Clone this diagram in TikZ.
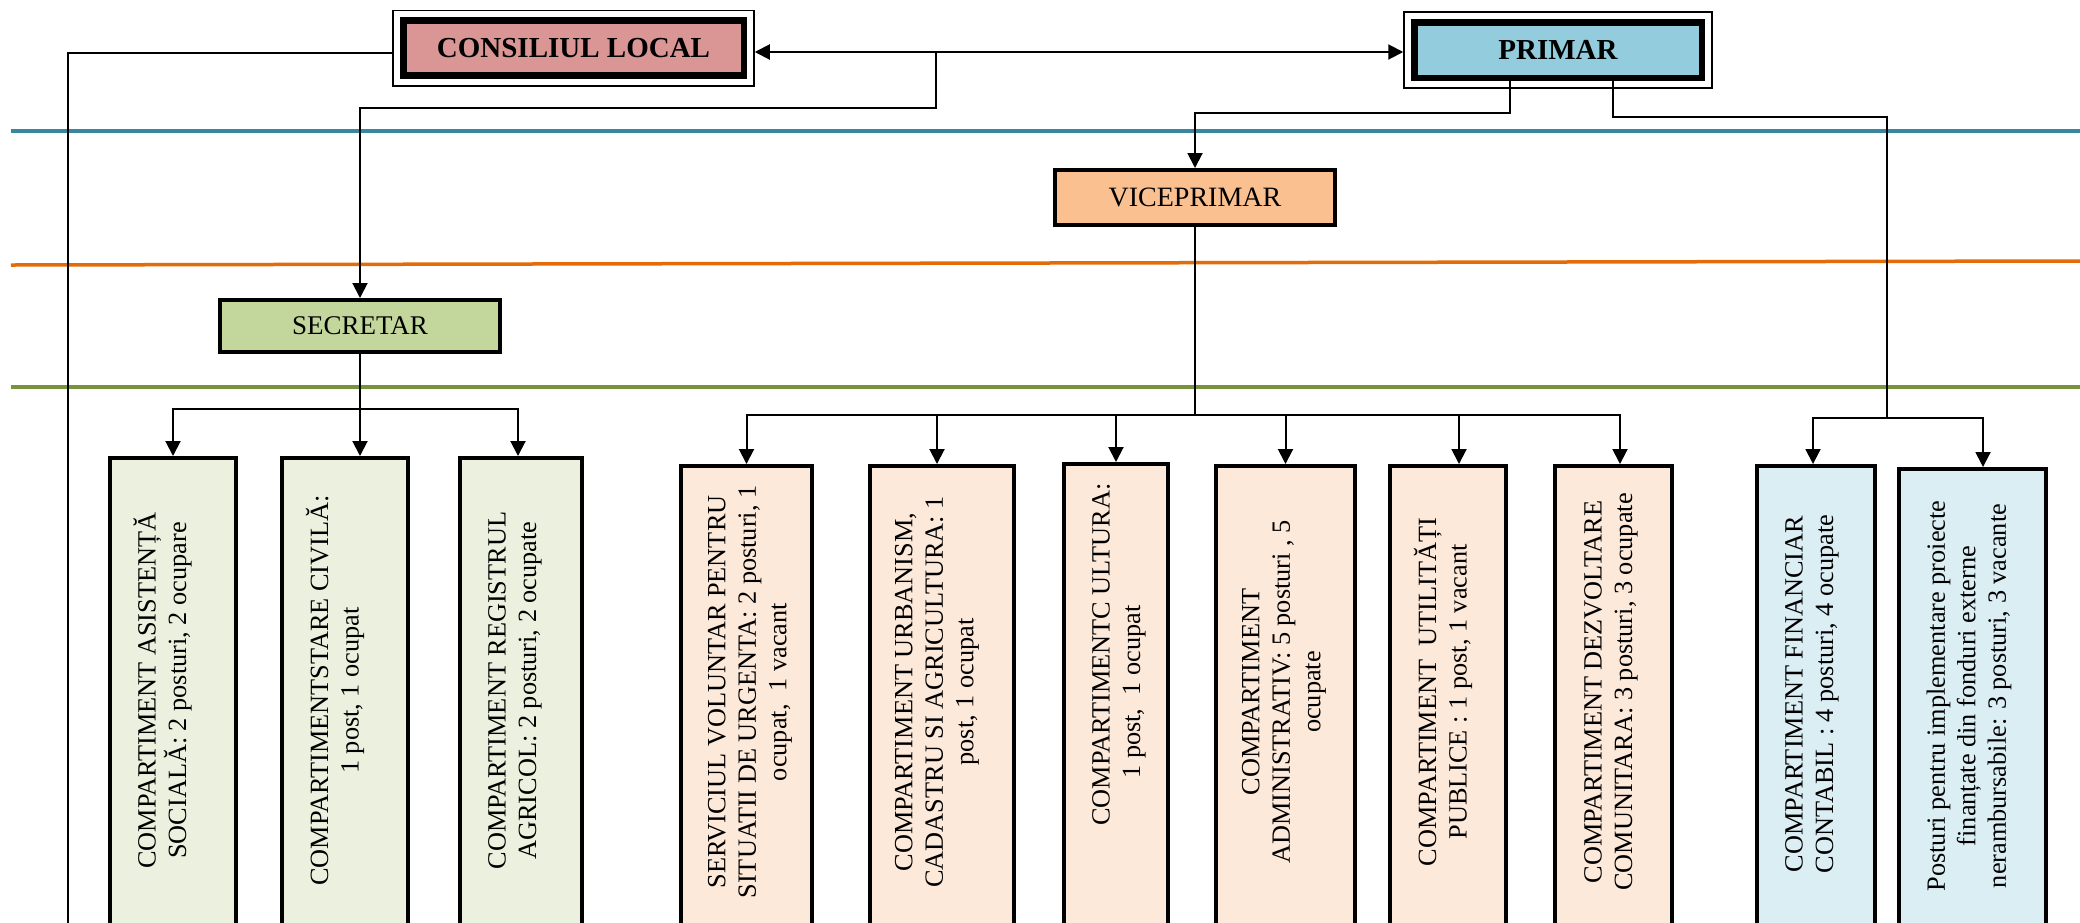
\documentclass[tikz,border=0pt]{standalone}
\usepackage{fontspec}
\setmainfont{Liberation Serif}
\usetikzlibrary{arrows.meta}
\definecolor{clpink}{RGB}{217,150,148}
\definecolor{prblue}{RGB}{147,205,221}
\definecolor{vporange}{RGB}{250,192,144}
\definecolor{secgreen}{RGB}{195,214,155}
\definecolor{lgreen}{RGB}{235,241,222}
\definecolor{lorange}{RGB}{253,233,217}
\definecolor{lblue}{RGB}{219,238,244}
\definecolor{lineblue}{RGB}{55,135,160}
\definecolor{lineorange}{RGB}{227,108,9}
\definecolor{linegreen}{RGB}{119,147,60}
\begin{document}
\begin{tikzpicture}[x=1pt,y=-1pt,
  conn/.style={line width=2pt,line join=miter},
  tipA/.tip={Triangle[width=15pt,length=15pt]},
  arr/.style={conn,-tipA},
  topbox/.style={draw=black,line width=6.5pt,inner sep=0pt,font=\fontsize{29}{32}\selectfont\bfseries},
  titlebox/.style={draw=black,line width=4pt,inner sep=0pt},
  dept/.style={draw=black,line width=4pt,inner sep=0pt,minimum height=480pt,anchor=north},
  vtext/.style={rotate=90,align=center,inner sep=0pt,font=\fontsize{26.3}{30.5}\selectfont},
  sepline/.style={line width=3.5pt}]
\useasboundingbox (0,0) rectangle (2080,922);
\fill[white] (0,0) rectangle (2080,922);

% coloured separator lines
\draw[sepline,lineblue] (11,131) -- (2080,131);
\draw[sepline,lineorange] (11,265) -- (2080,261);
\draw[sepline,linegreen] (11,387) -- (2080,387);

% top boxes
\node[topbox,fill=clpink,minimum width=340.5pt,minimum height=55pt] (CL) at (573.5,48) {\raisebox{-3.5pt}{CONSILIUL LOCAL}};
\draw[line width=1.5pt] ([xshift=-7pt,yshift=7pt]CL.north west) rectangle ([xshift=7pt,yshift=-7pt]CL.south east);
\node[topbox,fill=prblue,minimum width=287.5pt,minimum height=55.5pt] (PR) at (1558,50) {\raisebox{-3.3pt}{PRIMAR}};
\draw[line width=1.5pt] ([xshift=-7pt,yshift=7pt]PR.north west) rectangle ([xshift=7pt,yshift=-7pt]PR.south east);

\node[titlebox,fill=vporange,minimum width=280pt,minimum height=55pt,font=\fontsize{28}{30}\selectfont] (VP) at (1195,197.5) {VICEPRIMAR};
\node[titlebox,fill=secgreen,minimum width=280pt,minimum height=52pt,font=\fontsize{27}{30}\selectfont] (SEC) at (360,326) {SECRETAR};

% department boxes
\node[dept,fill=lgreen,minimum width=126pt] (G1) at (173,456) {};
\node[dept,fill=lgreen,minimum width=126pt] (G2) at (345,456) {};
\node[dept,fill=lgreen,minimum width=122pt] (G3) at (521,456) {};
\node[dept,fill=lorange,minimum width=131pt] (O1) at (746.5,464) {};
\node[dept,fill=lorange,minimum width=144pt] (O2) at (942,464) {};
\node[dept,fill=lorange,minimum width=104pt] (O3) at (1116,462) {};
\node[dept,fill=lorange,minimum width=139pt] (O4) at (1285.5,464) {};
\node[dept,fill=lorange,minimum width=116pt] (O5) at (1448,464) {};
\node[dept,fill=lorange,minimum width=117pt] (O6) at (1613.5,464) {};
\node[dept,fill=lblue,minimum width=118pt] (F1) at (1816,464) {};
\node[dept,fill=lblue,minimum width=147pt] (F2) at (1972.5,467) {};

% texts
\node[vtext] (t1) at (162.5,690.5) {COMPARTIMENT ASISTENȚĂ\\SOCIALĂ: 2 posturi, 2 ocupare};
\node[vtext] (t2) at (335,690.5) {COMPARTIMENTSTARE CIVILĂ:\\1 post, 1 ocupat};
\node[vtext] (t3) at (515,690.5) {COMPARTIMENT REGISTRUL\\AGRICOL: 2 posturi, 2 ocupate};
\node[vtext] (t4) at (750,692) {SERVICIUL VOLUNTAR PENTRU\\SITUATII DE URGENTA: 2 posturi, 1\\ocupat,\ \ 1 vacant};
\node[vtext] (t5) at (937,692) {COMPARTIMENT URBANISM,\\CADASTRU SI AGRICULTURA: 1\\post, 1 ocupat};
\node[vtext] (t6) at (1119,692) {\hspace*{75pt}COMPARTIMENTC ULTURA:\\1 post,\ \ 1 ocupat};
\node[vtext] (t7) at (1284,692) {COMPARTIMENT\\ADMINISTRATIV: 5 posturi , 5\\ocupate};
\node[vtext] (t8) at (1443,692) {COMPARTIMENT\ \ UTILITĂȚI\\PUBLICE : 1 post, 1 vacant};
\node[vtext] (t9) at (1611,692) {COMPARTIMENT DEZVOLTARE\\COMUNITARA: 3 posturi, 3 ocupate};
\node[vtext] (t10) at (1812,694) {COMPARTIMENT FINANCIAR\\CONTABIL : 4 posturi, 4 ocupate};
\node[vtext] (t11) at (1969,696) {Posturi pentru implementare proiecte\\finanțate din fonduri externe\\nerambursabile: 3 posturi, 3 vacante};

% junction coordinates
\coordinate (j1) at (936,52);
\coordinate (j2) at (936,108);
\coordinate (lbot) at (68,940);
\coordinate (p2) at (1510,113);
\coordinate (p3) at (1613,117);
\coordinate (fb) at (1887,418);
\coordinate (sb) at (360,409);
\coordinate (vb) at (1195,415);

% connectors
\draw[conn,tipA-tipA] ([xshift=7.75pt,yshift=-4pt]CL.east) -- ([xshift=-7.75pt,yshift=-2pt]PR.west);
\draw[arr] (j1) -- (j2) -| (SEC.north);
\draw[conn] ([xshift=-7.75pt,yshift=-5pt]CL.west) -| (lbot);
\draw[arr] ([xshift=-48pt]PR.south) -- (p2) -| (VP.north);
\draw[conn] ([xshift=55pt]PR.south) -- (p3) -| (fb);
\draw[arr] (fb) -| ([xshift=-3pt]F1.north);
\draw[arr] (fb) -| ([xshift=10.5pt]F2.north);

\draw[conn] (SEC.south) -- (sb);
\draw[arr] (sb) -| (G1.north);
\draw[arr] (sb) -- (sb |- G2.north);
\draw[arr] (sb) -| ([xshift=-3pt]G3.north);

\draw[conn] (VP.south) -- (vb);
\draw[arr] (vb) -| (O1.north);
\draw[arr] (vb) -| ([xshift=-5pt]O2.north);
\draw[arr] (vb) -| (O3.north);
\draw[arr] (vb) -| (O4.north);
\draw[arr] (vb) -| ([xshift=11pt]O5.north);
\draw[arr] (vb) -| ([xshift=6.5pt]O6.north);
\end{tikzpicture}
\end{document}
